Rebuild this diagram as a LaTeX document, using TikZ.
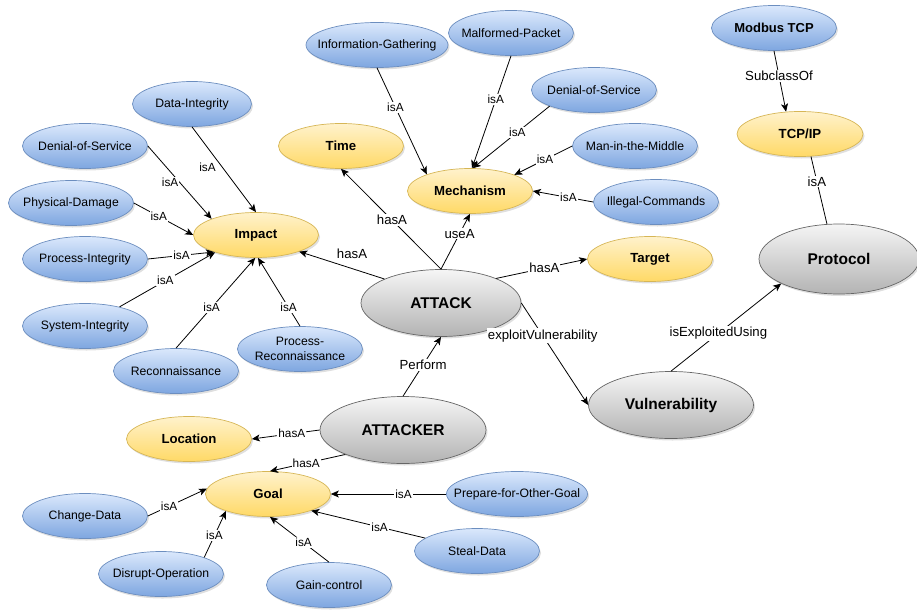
\documentclass[tikz,border=0pt]{standalone}
\usepackage{fontspec}
\setmainfont{Liberation Sans}
\usetikzlibrary{positioning, shapes.geometric, shadows, arrows.meta}

\definecolor{blueTop}{HTML}{DAE8FC}
\definecolor{blueBot}{HTML}{7EA6E0}
\definecolor{blueLine}{HTML}{6C8EBF}
\definecolor{yellowTop}{HTML}{FFF2CC}
\definecolor{yellowBot}{HTML}{FFD966}
\definecolor{yellowLine}{HTML}{D6B656}
\definecolor{grayTop}{HTML}{F5F5F5}
\definecolor{grayBot}{HTML}{B3B3B3}
\definecolor{grayLine}{HTML}{666666}

\tikzstyle{concept} = [ellipse, minimum width=125pt, minimum height=45pt, inner xsep=-14pt, inner ysep=0pt, line width=0.7pt, drop shadow={shadow xshift=1.5pt, shadow yshift=-2pt, opacity=0.25}]
\tikzstyle{blueNode} = [concept, draw=blueLine, top color=blueTop, bottom color=blueBot, font=\fontsize{12.2}{14.5}\selectfont]
\tikzstyle{yellowNode} = [concept, draw=yellowLine, top color=yellowTop, bottom color=yellowBot, font=\bfseries\fontsize{13.2}{15}\selectfont]
\tikzstyle{grayNode} = [concept, draw=grayLine, top color=grayTop, bottom color=grayBot, minimum width=160pt, minimum height=67pt, font=\bfseries\fontsize{15.5}{17}\selectfont]
\tikzstyle{link} = [draw, line width=0.8pt]
\tikzstyle{isA} = [link, -{Stealth[length=8pt, width=7pt, inset=2pt]}]
\tikzstyle{lbl} = [fill=white, inner sep=1pt, font=\fontsize{11.8}{13}\selectfont]
\tikzstyle{relLbl} = [lbl, font=\fontsize{13.2}{14}\selectfont]

\begin{document}
\begin{tikzpicture}[node distance = 1cm, on grid]

    \useasboundingbox (0,0) rectangle (917pt,-610pt);

    \node[grayNode] (attack) at (441pt,-303pt) {ATTACK};
    \node[grayNode, minimum width=166pt] (attacker) [below left = 127pt and 38pt of attack] {ATTACKER};
    \node[grayNode, minimum width=165pt] (vuln) [below right = 102pt and 230pt of attack] {Vulnerability};
    \node[grayNode, minimum height=70pt] (protocol) [above right = 146pt and 168pt of vuln] {Protocol};
    \node[yellowNode, minimum width=126pt] (tcpip) [above left = 125pt and 39pt of protocol] {TCP/IP};
    \node[blueNode, font=\bfseries\fontsize{13}{15}\selectfont] (modbus) [above left = 106pt and 26pt of tcpip] {Modbus TCP};
    \node[yellowNode] (target) [above right = 44pt and 209pt of attack] {Target};
    \node[yellowNode] (mech) [above right = 112pt and 29pt of attack] {Mechanism};
    \node[yellowNode] (time) [above left = 157pt and 100pt of attack] {Time};
    \node[yellowNode] (impact) [above left = 68pt and 185pt of attack] {Impact};
    \node[yellowNode] (location) [below left = 9pt and 214pt of attacker] {Location};
    \node[yellowNode] (goal) [below left = 64pt and 135pt of attacker] {Goal};

    \node[blueNode, minimum width=142pt] (infoGath) [above left = 146pt and 93pt of mech] {Information-Gathering};
    \node[blueNode] (malformed) [above right = 158pt and 41pt of mech] {Malformed-Packet};
    \node[blueNode] (dosMech) [above right = 101pt and 124pt of mech] {Denial-of-Service};
    \node[blueNode] (mitm) [above right = 45pt and 165pt of mech] {Man-in-the-Middle};
    \node[blueNode] (illegal) [below right = 11pt and 186pt of mech] {Illegal-Commands};

    \node[blueNode, minimum width=119pt] (dataInt) [above left = 131pt and 64pt of impact] {Data-Integrity};
    \node[blueNode] (dosImpact) [above left = 89pt and 171pt of impact] {Denial-of-Service};
    \node[blueNode] (physDamage) [above left = 32pt and 185pt of impact] {Physical-Damage};
    \node[blueNode] (procInt) [below left = 24pt and 171pt of impact] {Process-Integrity};
    \node[blueNode] (sysInt) [below left = 91pt and 171pt of impact] {System-Integrity};
    \node[blueNode] (recon) [below left = 136pt and 80pt of impact] {Reconnaissance};
    \node[blueNode, align=center] (procRecon) [below right = 114pt and 44pt of impact] {Process-\\Reconnaissance};

    \node[blueNode] (changeData) [below left = 22pt and 183pt of goal] {Change-Data};
    \node[blueNode] (disrupt) [below left = 80pt and 107pt of goal] {Disrupt-Operation};
    \node[blueNode] (gainCtrl) [below right = 91pt and 61pt of goal] {Gain-control};
    \node[blueNode] (stealData) [below right = 57pt and 209pt of goal] {Steal-Data};
    \node[blueNode, minimum width=141pt, inner xsep=-17pt] (prepare) [right = 249pt of goal] {Prepare-for-Other-Goal};

    \draw[isA] (infoGath.south) -- node[lbl, pos=.37] {isA} (mech.159);
    \draw[isA] (malformed.south) -- node[lbl, pos=.39] {isA} (mech.85);
    \draw[isA] (dosMech.200) -- node[lbl, pos=.42] {isA} (mech.83);
    \draw[isA] (mitm.west) -- node[lbl, pos=.47] {isA} (mech.20);
    \draw[isA] (illegal.west) -- node[lbl, pos=.41] {isA} (mech.east);

    \draw[isA] (dataInt.south) -- node[lbl, pos=.47, left=5pt] {isA} (impact.north);
    \draw[isA] (dosImpact.east) -- node[lbl, pos=.5, left=0pt] {isA} (impact.160);
    \draw[isA] (physDamage.east) -- node[lbl, pos=.42] {isA} (impact.west);
    \draw[isA] (procInt.east) -- node[lbl, pos=.51] {isA} (impact.202);
    \draw[isA] (sysInt.29) -- node[lbl, pos=.48] {isA} (impact.203);
    \draw[isA] (recon.north) -- node[lbl, pos=.45] {isA} (impact.268);
    \draw[isA] (procRecon.north) -- node[lbl, pos=.27] {isA} (impact.275);

    \draw[isA] (attack.north) -- node[relLbl, pos=.49] {hasA} (time.south);
    \draw[isA] (attack.north) -- node[relLbl, pos=.64] {useA} (mech.south);
    \draw[isA] (attack.157) -- node[relLbl, pos=.38, above=9pt] {hasA} (impact.339);
    \draw[isA] (attack.24) -- node[relLbl, pos=.53] {hasA} (target.west);
    \draw[isA] (attack.east) -- node[relLbl, pos=.32] {exploitVulnerability} (vuln.west);
    \draw[isA] (attacker.north) -- node[relLbl, pos=.53] {Perform} (attack.south);
    \draw[isA] (vuln.north) -- node[relLbl, pos=.43] {isExploitedUsing} (protocol.203);
    \draw[isA] (modbus.south) -- node[relLbl, pos=.41] {SubclassOf} (tcpip.122);
    \draw[link] (tcpip.296) -- node[relLbl, pos=.37] {isA} (protocol.109);
    \draw[isA] (attacker.west) -- node[lbl, pos=.41] {hasA} (location.east);
    \draw[isA] (attacker.203) -- node[lbl, pos=.52] {hasA} (goal.85);

    \draw[isA] (changeData.east) -- node[lbl, pos=.36] {isA} (goal.175);
    \draw[isA] (disrupt.21) -- node[lbl, pos=.47] {isA} (goal.202);
    \draw[isA] (gainCtrl.north) -- node[lbl, pos=.43] {isA} (goal.275);
    \draw[isA] (stealData.166) -- node[lbl, pos=.40] {isA} (goal.339);
    \draw[isA] (prepare.west) -- node[lbl, pos=.37] {isA} (goal.east);
  \end{tikzpicture}
\end{document}
